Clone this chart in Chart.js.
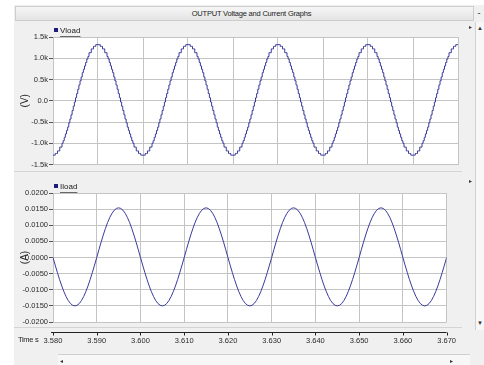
<!DOCTYPE html>
<html>
<head>
<meta charset="utf-8">
<title>OUTPUT Voltage and Current Graphs</title>
<script src="https://cdn.jsdelivr.net/npm/chart.js@4.4.1/dist/chart.umd.min.js"></script>
<style>
	body      { margin: 0; width: 484px; height: 365px; position: relative; overflow: hidden; background: #fff;
	            font-family: "Liberation Sans Narrow", "Liberation Sans", Arial, sans-serif; color: #222; }
	#frame    { position: absolute; left: 14px; top: 5px; width: 470px; height: 360px; background: #f0f0f0; }
	#title    { position: absolute; left: 15px; top: 6px; width: 457px; height: 13px; line-height: 13px; font-size: 7.5px;
	            letter-spacing: -0.2px; text-align: center; text-indent: 14px; color: #222;
	            background: linear-gradient(#f6f6f6, #e4e4e4); border: 1px solid #cdcdcd; }
	#minBtn   { position: absolute; left: 474px; top: 8px; width: 10px; font-size: 9px; text-align: center; }
	canvas    { position: absolute; left: 0; }
	#vChart   { top: 20px; }
	#iChart   { top: 176px; }
	#sep      { position: absolute; left: 14px; top: 171px; width: 448px; height: 0; border-top: 1px solid #d4d4d4; }
	#axisSep  { position: absolute; left: 14px; top: 327px; width: 448px; height: 0; border-top: 1px solid #d4d4d4; }
	#timeLbl  { position: absolute; left: 18px; top: 335px; font-size: 7.5px; letter-spacing: -0.3px; }
	#vScroll  { position: absolute; left: 475px; top: 22px; width: 9px; height: 308px; background: #f7f7f7; border-left: 1px solid #d0d0d0; }
	#hScroll  { position: absolute; left: 58px; top: 354px; width: 412px; height: 11px; background: #f7f7f7; border-top: 1px solid #d0d0d0; }
	.arrow    { position: absolute; font-size: 6px; line-height: 6px; color: #333; }
	.mark     { position: absolute; left: 469px; font-size: 6px; line-height: 6px; color: #333; }
</style>
</head>
<body>
<div id="frame"></div>
<div id="title">OUTPUT Voltage and Current Graphs</div>
<div id="minBtn">-</div>
<div id="sep"></div>
<div id="axisSep"></div>
<canvas id="vChart" width="470" height="150"></canvas>
<canvas id="iChart" width="470" height="176"></canvas>
<div id="timeLbl">Time s</div>
<div id="vScroll">
	<span class="arrow" style="left:1px; top:3px">▲</span>
	<span class="arrow" style="left:1px; top:298px">▼</span>
</div>
<div id="hScroll">
	<span class="arrow" style="left:2px; top:3px">◂</span>
	<span class="arrow" style="left:392px; top:3px">▸</span>
</div>
<div class="mark" style="top:24px">▸</div>
<div class="mark" style="top:178px">▸</div>

<script>

// Scope sample clocks (s)
var tStart = 3.580;
var vStep  = 0.00025;
var iStep  = 0.0005;

// Axis ticks
var timeTicks  = [3.580, 3.590, 3.600, 3.610, 3.620, 3.630, 3.640, 3.650, 3.660, 3.670];
var vloadTicks = [-1500, -1000, -500, 0, 500, 1000, 1500];
var iloadTicks = [-0.02, -0.015, -0.01, -0.005, 0, 0.005, 0.01, 0.015, 0.02];

// Vload (V), staircase output, one value every 0.25 ms
var vload = [
	-1280, -1280, -1240, -1240, -1180, -1180, -1090, -1090, -1000, -940, -860, -780, -700, -620, -520, -430, -330, -230, -130, -30, 70, 170, 270, 370, 470, 560, 660, 740, 820, 900, 980, 1040, 1130, 1130, 1220, 1220, 1280, 1280, 1320, 1320,
	1320, 1320, 1280, 1280, 1220, 1220, 1130, 1130, 1040, 980, 900, 820, 740, 660, 560, 470, 370, 270, 170, 70, -30, -130, -230, -330, -430, -520, -620, -700, -780, -860, -940, -1000, -1090, -1090, -1180, -1180, -1240, -1240, -1280, -1280,
	-1280, -1280, -1240, -1240, -1180, -1180, -1090, -1090, -1000, -940, -860, -780, -700, -620, -520, -430, -330, -230, -130, -30, 70, 170, 270, 370, 470, 560, 660, 740, 820, 900, 980, 1040, 1130, 1130, 1220, 1220, 1280, 1280, 1320, 1320,
	1320, 1320, 1280, 1280, 1220, 1220, 1130, 1130, 1040, 980, 900, 820, 740, 660, 560, 470, 370, 270, 170, 70, -30, -130, -230, -330, -430, -520, -620, -700, -780, -860, -940, -1000, -1090, -1090, -1180, -1180, -1240, -1240, -1280, -1280,
	-1280, -1280, -1240, -1240, -1180, -1180, -1090, -1090, -1000, -940, -860, -780, -700, -620, -520, -430, -330, -230, -130, -30, 70, 170, 270, 370, 470, 560, 660, 740, 820, 900, 980, 1040, 1130, 1130, 1220, 1220, 1280, 1280, 1320, 1320,
	1320, 1320, 1280, 1280, 1220, 1220, 1130, 1130, 1040, 980, 900, 820, 740, 660, 560, 470, 370, 270, 170, 70, -30, -130, -230, -330, -430, -520, -620, -700, -780, -860, -940, -1000, -1090, -1090, -1180, -1180, -1240, -1240, -1280, -1280,
	-1280, -1280, -1240, -1240, -1180, -1180, -1090, -1090, -1000, -940, -860, -780, -700, -620, -520, -430, -330, -230, -130, -30, 70, 170, 270, 370, 470, 560, 660, 740, 820, 900, 980, 1040, 1130, 1130, 1220, 1220, 1280, 1280, 1320, 1320,
	1320, 1320, 1280, 1280, 1220, 1220, 1130, 1130, 1040, 980, 900, 820, 740, 660, 560, 470, 370, 270, 170, 70, -30, -130, -230, -330, -430, -520, -620, -700, -780, -860, -940, -1000, -1090, -1090, -1180, -1180, -1240, -1240, -1280, -1280,
	-1280, -1280, -1240, -1240, -1180, -1180, -1090, -1090, -1000, -940, -860, -780, -700, -620, -520, -430, -330, -230, -130, -30, 70, 170, 270, 370, 470, 560, 660, 740, 820, 900, 980, 1040, 1130, 1130, 1220, 1220, 1280, 1280, 1320, 1320,
	1320
];

// Iload (A), one value every 0.5 ms
var iload = [
	0, -0.00235, -0.00464, -0.00681, -0.00882, -0.01061, -0.01214, -0.01337, -0.01427, -0.01482, -0.01500, -0.01482, -0.01427, -0.01337, -0.01214, -0.01061, -0.00882, -0.00681, -0.00464, -0.00235,
	0, 0.00241, 0.00476, 0.00699, 0.00905, 0.01089, 0.01246, 0.01372, 0.01465, 0.01521, 0.01540, 0.01521, 0.01465, 0.01372, 0.01246, 0.01089, 0.00905, 0.00699, 0.00476, 0.00241,
	0, -0.00235, -0.00464, -0.00681, -0.00882, -0.01061, -0.01214, -0.01337, -0.01427, -0.01482, -0.01500, -0.01482, -0.01427, -0.01337, -0.01214, -0.01061, -0.00882, -0.00681, -0.00464, -0.00235,
	0, 0.00241, 0.00476, 0.00699, 0.00905, 0.01089, 0.01246, 0.01372, 0.01465, 0.01521, 0.01540, 0.01521, 0.01465, 0.01372, 0.01246, 0.01089, 0.00905, 0.00699, 0.00476, 0.00241,
	0, -0.00235, -0.00464, -0.00681, -0.00882, -0.01061, -0.01214, -0.01337, -0.01427, -0.01482, -0.01500, -0.01482, -0.01427, -0.01337, -0.01214, -0.01061, -0.00882, -0.00681, -0.00464, -0.00235,
	0, 0.00241, 0.00476, 0.00699, 0.00905, 0.01089, 0.01246, 0.01372, 0.01465, 0.01521, 0.01540, 0.01521, 0.01465, 0.01372, 0.01246, 0.01089, 0.00905, 0.00699, 0.00476, 0.00241,
	0, -0.00235, -0.00464, -0.00681, -0.00882, -0.01061, -0.01214, -0.01337, -0.01427, -0.01482, -0.01500, -0.01482, -0.01427, -0.01337, -0.01214, -0.01061, -0.00882, -0.00681, -0.00464, -0.00235,
	0, 0.00241, 0.00476, 0.00699, 0.00905, 0.01089, 0.01246, 0.01372, 0.01465, 0.01521, 0.01540, 0.01521, 0.01465, 0.01372, 0.01246, 0.01089, 0.00905, 0.00699, 0.00476, 0.00241,
	0, -0.00235, -0.00464, -0.00681, -0.00882, -0.01061, -0.01214, -0.01337, -0.01427, -0.01482, -0.01500, -0.01482, -0.01427, -0.01337, -0.01214, -0.01061, -0.00882, -0.00681, -0.00464, -0.00235,
	0
];

// Look
var fontFamily = '"Liberation Sans Narrow", "Liberation Sans", Arial, sans-serif';
var lineColor  = '#3a3a9c';
var gridColor  = '#c4c4c4';

Chart.defaults.font.family = fontFamily;
Chart.defaults.font.size   = 7.5;
Chart.defaults.color       = '#2a2a2a';

// White plotting area
var plotBack = {
	id : 'plotBack',
	beforeDraw(chart) {
		var a = chart.chartArea, ctx = chart.ctx;
		ctx.save();
		ctx.fillStyle = '#ffffff';
		ctx.fillRect(a.left, a.top, a.right - a.left, a.bottom - a.top);
		ctx.restore();
	}
};

// Small square + underlined trace name above the plot
var scopeLegend = {
	id : 'scopeLegend',
	afterDraw(chart) {
		var ds = chart.data.datasets[0], a = chart.chartArea, ctx = chart.ctx;
		var y = a.top - 6;
		ctx.save();
		ctx.fillStyle = '#1c1c7c';
		ctx.fillRect(a.left + 1, y - 3, 4, 4);
		ctx.font = '8px ' + fontFamily;
		ctx.fillStyle = '#222';
		ctx.textBaseline = 'middle';
		ctx.fillText(ds.label, a.left + 7, y);
		var w = ctx.measureText(ds.label).width;
		ctx.strokeStyle = '#666';
		ctx.lineWidth = 1;
		ctx.beginPath();
		ctx.moveTo(a.left + 7, Math.round(y + 5) + 0.5);
		ctx.lineTo(a.left + 7 + w, Math.round(y + 5) + 0.5);
		ctx.stroke();
		ctx.restore();
	}
};

// Black time axis with tick marks under the lower plot
var timeAxis = {
	id : 'timeAxis',
	afterDraw(chart) {
		var x = chart.scales.x, a = chart.chartArea, ctx = chart.ctx;
		var y = Math.round(a.bottom + 10) + 0.5;
		ctx.save();
		ctx.strokeStyle = '#222';
		ctx.lineWidth = 1;
		ctx.beginPath();
		ctx.moveTo(a.left - 2, y);
		ctx.lineTo(a.right, y);
		timeTicks.forEach(t => {
			var px = Math.round(x.getPixelForValue(t)) + 0.5;
			ctx.moveTo(px, y);
			ctx.lineTo(px, y + 3);
		});
		ctx.stroke();
		ctx.restore();
	}
};

function scopeChart(id, label, values, step, yTicks, yTitle, fmt, stepped, showTime) {
	return new Chart(document.getElementById(id), {
		type : 'line',
		data : {
			datasets : [{
				label       : label,
				data        : values.map((v, i) => ({ x : Number((tStart + i * step).toFixed(5)), y : v })),
				borderColor : lineColor,
				borderWidth : 1,
				pointRadius : 0,
				fill        : false,
				stepped     : stepped
			}]
		},
		options : {
			responsive : false,
			animation  : false,
			layout     : { padding : { left : 0, right : 12, top : 17, bottom : showTime ? 2 : 3 } },
			plugins    : { legend : { display : false }, tooltip : { enabled : false } },
			scales : {
				x : {
					type  : 'linear',
					min   : timeTicks[0],
					max   : timeTicks[timeTicks.length - 1],
					afterBuildTicks : s => { s.ticks = timeTicks.map(v => ({ value : v })); },
					grid   : { color : gridColor, drawTicks : false },
					border : { display : false },
					ticks  : { display : showTime, padding : 14, maxRotation : 0, autoSkip : false, callback : v => v.toFixed(3) },
					afterFit : s => { s.height = showTime ? 28 : 0; }
				},
				y : {
					min : yTicks[0],
					max : yTicks[yTicks.length - 1],
					afterBuildTicks : s => { s.ticks = yTicks.map(v => ({ value : v })); },
					grid   : { color : gridColor, tickColor : '#555', tickLength : 4 },
					border : { display : false },
					ticks  : { padding : 1, autoSkip : false, callback : fmt },
					title  : { display : true, text : yTitle, font : { size : 10 }, padding : { top : 19, bottom : 0 } },
					afterFit : s => { s.width = 53; }
				}
			}
		},
		plugins : showTime ? [plotBack, scopeLegend, timeAxis] : [plotBack, scopeLegend]
	});
}

scopeChart('vChart', 'Vload', vload, vStep, vloadTicks, '(V)',
	v => Math.abs(v) < 1e-9 ? '0.0' : (v / 1000).toFixed(1) + 'k', true, false);

scopeChart('iChart', 'Iload', iload, iStep, iloadTicks, '(A)',
	v => Math.abs(v) < 1e-12 ? '0.0000' : v.toFixed(4), false, true);

</script>
</body>
</html>
